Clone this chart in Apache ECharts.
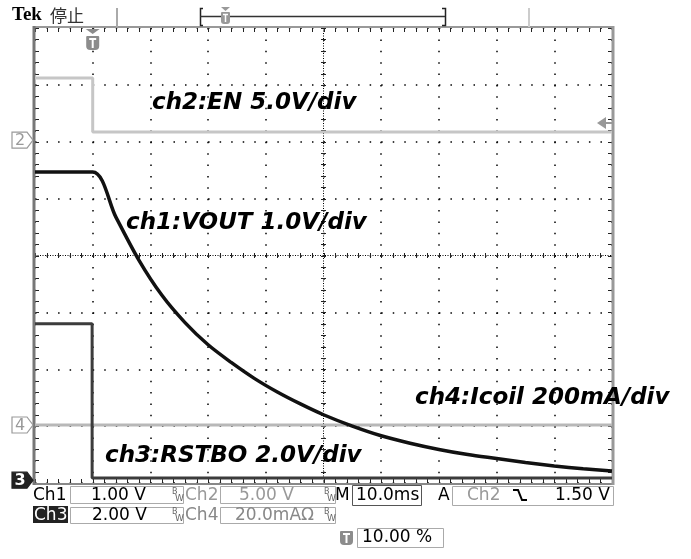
<!DOCTYPE html>
<html><head><meta charset="utf-8">
<script src="https://cdn.jsdelivr.net/npm/echarts@6/dist/echarts.min.js"></script>
<style>html,body{margin:0;padding:0;background:#fff}#c{width:691px;height:559px}</style>
</head><body><div id="c"></div>
<script>
// ---- data (time in ms, level in screen divisions from bottom) ----
const ch1Time = [-10, 0, 4, 8, 12, 16, 20, 24, 28, 32, 36, 40, 45, 50, 55, 60, 65, 70, 75, 80, 85, 90];
const ch1Div  = [5.47, 5.47, 4.68, 3.92, 3.30, 2.82, 2.43, 2.12, 1.84, 1.60, 1.39, 1.20, 1.00, 0.83, 0.70, 0.59, 0.50, 0.43, 0.36, 0.30, 0.25, 0.21];
const ch2Time = [-10, 0, 0, 90];
const ch2Div  = [7.12, 7.12, 6.17, 6.17];
const ch3Time = [-10, -0.1, -0.1, 90];
const ch3Div  = [2.80, 2.80, 0.09, 0.09];
const ch4Time = [-10, 90];
const ch4Div  = [1.02, 1.02];
const groundNames = ['2', '4', '3'];
const groundDiv   = [6.03, 1.02, 0.05];
const triggerTime = 0;
const triggerLevelDiv = 6.33;
const traceLabels = ['ch2:EN 5.0V/div', 'ch1:VOUT 1.0V/div', 'ch4:Icoil 200mA/div', 'ch3:RSTBO 2.0V/div'];
const readRow1 = ['Ch1', '1.00 V', 'Ch2', '5.00 V', 'M', '10.0ms', 'A', 'Ch2', '1.50 V'];
const readRow2 = ['Ch3', '2.00 V', 'Ch4', '20.0mAΩ'];
const readRow3 = ['10.00 %'];

const xMin = -10, xMax = 90, yMin = 0, yMax = 8;
const zip = (a, b) => a.map((v, i) => [v, b[i]]);

const chart = echarts.init(document.getElementById('c'), null, {renderer: 'canvas'});

function renderGraticule(params, api) {
  const ch = [];
  const L = api.coord([xMin, 0])[0], R = api.coord([xMax, 0])[0];
  const T = api.coord([0, yMax])[1], B = api.coord([0, yMin])[1];
  const cx = api.coord([(xMin + xMax) / 2, 0])[0], cy = api.coord([0, (yMin + yMax) / 2])[1];
  const dense = {stroke: '#000', lineWidth: 1, lineDash: [1, 1.5]};
  const tk = {stroke: '#222', lineWidth: 1};
  ch.push({type: 'line', shape: {x1: L, y1: cy, x2: R, y2: cy}, style: dense});
  ch.push({type: 'line', shape: {x1: cx, y1: T, x2: cx, y2: B}, style: dense});
  for (let i = 0; i <= 50; i++) {
    const x = Math.round(api.coord([xMin + i * 2, 0])[0]) + 0.5;
    ch.push({type: 'line', shape: {x1: x, y1: cy - 2.5, x2: x, y2: cy + 2.5}, style: tk});
    ch.push({type: 'line', shape: {x1: x, y1: T, x2: x, y2: T + 4}, style: tk});
    ch.push({type: 'line', shape: {x1: x, y1: B - 4, x2: x, y2: B}, style: tk});
  }
  for (let j = 0; j <= 40; j++) {
    const y = Math.round(api.coord([0, j * 0.2])[1]) + 0.5;
    ch.push({type: 'line', shape: {x1: cx - 2.5, y1: y, x2: cx + 2.5, y2: y}, style: tk});
    ch.push({type: 'line', shape: {x1: L, y1: y, x2: L + 4, y2: y}, style: tk});
    ch.push({type: 'line', shape: {x1: R - 4, y1: y, x2: R, y2: y}, style: tk});
  }
  // frame
  ch.push({type: 'line', shape: {x1: L, y1: T - 1, x2: R + 1, y2: T - 1}, style: {stroke: '#999', lineWidth: 2}});
  ch.push({type: 'line', shape: {x1: L, y1: B + 1, x2: R + 1, y2: B + 1}, style: {stroke: '#888', lineWidth: 2}});
  ch.push({type: 'line', shape: {x1: L - 1, y1: T - 2, x2: L - 1, y2: B + 2}, style: {stroke: '#777', lineWidth: 3}});
  ch.push({type: 'line', shape: {x1: R + 1, y1: T - 2, x2: R + 1, y2: B + 2}, style: {stroke: '#999', lineWidth: 3}});
  return {type: 'group', children: ch};
}

chart.setOption({
  animation: false,
  backgroundColor: '#fff',
  grid: {left: 35, top: 28, width: 577, height: 455, show: false},
  xAxis: {type: 'value', min: xMin, max: xMax, interval: 10,
    axisLine: {show: false}, axisTick: {show: false}, axisLabel: {show: false},
    splitLine: {show: true, lineStyle: {color: '#000', width: 1.5, type: [1.5, 9.875]}}},
  yAxis: {type: 'value', min: yMin, max: yMax, interval: 1,
    axisLine: {show: false}, axisTick: {show: false}, axisLabel: {show: false},
    splitLine: {show: true, lineStyle: {color: '#000', width: 1.5, type: [1.5, 10.04]}}},
  series: [
    {type: 'custom', name: 'graticule', silent: true, z: 1, renderItem: renderGraticule, data: [[0, 0]]},
    {type: 'line', name: 'ch2', z: 3, data: zip(ch2Time, ch2Div), showSymbol: false, lineStyle: {color: '#c6c6c6', width: 3}},
    {type: 'line', name: 'ch4', z: 3, data: zip(ch4Time, ch4Div), showSymbol: false, lineStyle: {color: '#b8b8b8', width: 3}},
    {type: 'line', name: 'ch3', z: 4, data: zip(ch3Time, ch3Div), showSymbol: false, lineStyle: {color: '#3c3c3c', width: 3}},
    {type: 'line', name: 'ch1', z: 5, data: zip(ch1Time, ch1Div), showSymbol: false, smooth: 0.3, lineStyle: {color: '#111', width: 3.5}}
  ]
});

const px = (t, d) => chart.convertToPixel({gridIndex: 0}, [t, d]);
const g = [];
const labelFont = 'italic bold 23px "DejaVu Sans"';
const labelPos = [[152, 103], [126, 223], [415, 398], [105, 456]];
traceLabels.forEach((s, i) => g.push({type: 'text', z: 20, x: labelPos[i][0], y: labelPos[i][1],
  style: {text: s, font: labelFont, fill: '#000', textAlign: 'left', textVerticalAlign: 'middle'}}));

// ground markers
groundNames.forEach((n, i) => {
  const y = px(xMin, groundDiv[i])[1];
  const filled = n === '3';
  g.push({type: 'polygon', z: 20, shape: {points: [[12, y - 8], [27, y - 8], [33, y], [27, y + 8], [12, y + 8]]},
    style: {fill: filled ? '#222' : '#fff', stroke: filled ? '#222' : '#999', lineWidth: 1.2}});
  g.push({type: 'text', z: 21, x: 20, y: y + 0.5, style: {text: n, font: (filled ? 'bold ' : '') + '16px "DejaVu Sans"',
    fill: filled ? '#fff' : '#999', textAlign: 'center', textVerticalAlign: 'middle'}});
});

// trigger level arrow on right
(function () {
  const p = px(xMax, triggerLevelDiv);
  g.push({type: 'polygon', z: 20, shape: {points: [[p[0] - 15, p[1]], [p[0] - 6, p[1] - 6], [p[0] - 6, p[1] + 6]]}, style: {fill: '#999'}});
  g.push({type: 'line', z: 20, shape: {x1: p[0] - 6, y1: p[1], x2: p[0], y2: p[1]}, style: {stroke: '#999', lineWidth: 2}});
})();

// trigger position marker
function tShield(cx, top, h, w) {
  g.push({type: 'rect', z: 20, shape: {x: cx - w / 2, y: top, width: w, height: h, r: [1, 1, 4, 4]}, style: {fill: '#8c8c8c'}});
  g.push({type: 'line', z: 21, shape: {x1: cx - w / 2 + 3, y1: top + 3, x2: cx + w / 2 - 3, y2: top + 3}, style: {stroke: '#fff', lineWidth: 2}});
  g.push({type: 'line', z: 21, shape: {x1: cx, y1: top + 3, x2: cx, y2: top + h - 2}, style: {stroke: '#fff', lineWidth: 2}});
}
(function () {
  const p = px(triggerTime, yMax);
  g.push({type: 'polygon', z: 20, shape: {points: [[p[0] - 7, p[1] + 1], [p[0] + 7, p[1] + 1], [p[0], p[1] + 6]]}, style: {fill: '#8c8c8c'}});
  tShield(p[0], p[1] + 8, 14, 13);
})();

// header
g.push({type: 'text', z: 20, x: 12, y: 15, style: {text: 'Tek', font: 'bold 19px "Liberation Serif"', fill: '#000', textVerticalAlign: 'middle'}});
g.push({type: 'text', z: 20, x: 50, y: 16, style: {text: '停止', font: '17px "Noto Sans CJK JP"', fill: '#333', textVerticalAlign: 'middle'}});
g.push({type: 'line', z: 20, shape: {x1: 117, y1: 8, x2: 117, y2: 27}, style: {stroke: '#aaa', lineWidth: 2}});
g.push({type: 'line', z: 20, shape: {x1: 529, y1: 8, x2: 529, y2: 27}, style: {stroke: '#ccc', lineWidth: 2}});
g.push({type: 'polyline', z: 20, shape: {points: [[203, 8.5], [200.5, 8.5], [200.5, 25.5], [203, 25.5]]}, style: {stroke: '#222', lineWidth: 1.5, fill: null}});
g.push({type: 'polyline', z: 20, shape: {points: [[442, 8.5], [445.5, 8.5], [445.5, 25.5], [442, 25.5]]}, style: {stroke: '#222', lineWidth: 1.5, fill: null}});
g.push({type: 'line', z: 20, shape: {x1: 200, y1: 16.5, x2: 445, y2: 16.5}, style: {stroke: '#333', lineWidth: 1.5}});
g.push({type: 'polygon', z: 21, shape: {points: [[221, 7], [230, 7], [225.5, 11]]}, style: {fill: '#999'}});
g.push({type: 'rect', z: 21, shape: {x: 221, y: 12, width: 9, height: 12, r: [1, 1, 3, 3]}, style: {fill: '#999'}});
g.push({type: 'line', z: 22, shape: {x1: 225.5, y1: 14, x2: 225.5, y2: 22}, style: {stroke: '#fff', lineWidth: 1.5}});
g.push({type: 'line', z: 22, shape: {x1: 223, y1: 14.5, x2: 228, y2: 14.5}, style: {stroke: '#fff', lineWidth: 1.5}});

// readout
const rf = '17px "DejaVu Sans"';
function txt(s, x, y, fill, font, align) {
  g.push({type: 'text', z: 20, x: x, y: y, style: {text: s, font: font || rf, fill: fill || '#000', textAlign: align || 'left', textVerticalAlign: 'middle'}});
}
function box(x, y, w, h, stroke) {
  g.push({type: 'rect', z: 19, shape: {x: x + 0.5, y: y + 0.5, width: w, height: h}, style: {fill: '#fff', stroke: stroke || '#aaa', lineWidth: 1}});
}
function bw(x, y) {
  txt('B', x, y - 4, '#666', '8px "DejaVu Sans"');
  txt('W', x + 3, y + 3, '#666', '9px "DejaVu Sans"');
}
const r1 = 496, r2 = 516, r3 = 538;
txt(readRow1[0], 33, r1);
box(70, 486, 113, 17); txt(readRow1[1], 91, r1); bw(172, r1);
txt(readRow1[2], 185, r1, '#999');
box(220, 486, 115, 17); txt(readRow1[3], 239, r1, '#999'); bw(324, r1);
txt(readRow1[4], 335, r1);
box(352, 485, 69, 20, '#555'); txt(readRow1[5], 356, r1);
txt(readRow1[6], 438, r1);
box(452, 486, 161, 19); txt(readRow1[7], 467, r1, '#999');
g.push({type: 'polyline', z: 20, shape: {points: [[513, 490], [518, 490], [522, 500], [527, 500]]}, style: {stroke: '#000', lineWidth: 2, fill: null}});
txt(readRow1[8], 555, r1);

g.push({type: 'rect', z: 19, shape: {x: 33, y: 506, width: 35, height: 17}, style: {fill: '#222'}});
txt(readRow2[0], 34, r2, '#fff');
box(70, 507, 113, 16); txt(readRow2[1], 92, r2); bw(172, r2);
txt(readRow2[2], 185, r2, '#888');
box(220, 507, 115, 16); txt(readRow2[3], 235, r2, '#888'); bw(324, r2);

tShield(346.5, 531, 14, 13);
box(357, 528, 86, 19); txt(readRow3[0], 362, r3);

chart.setOption({graphic: {elements: g}});
</script>
</body></html>
